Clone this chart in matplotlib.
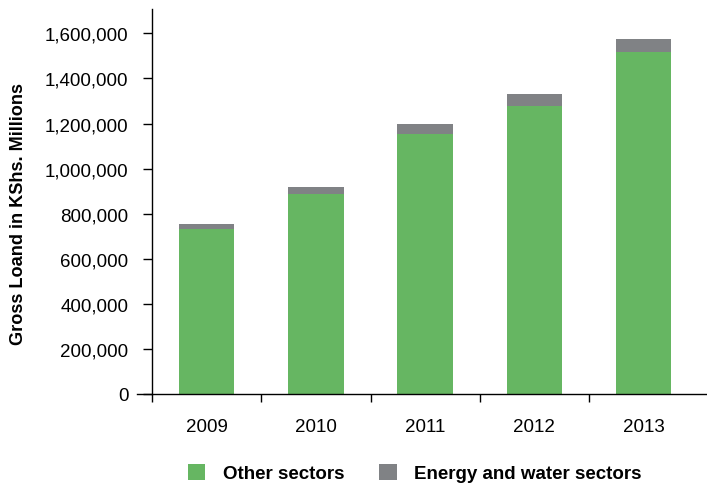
import matplotlib.pyplot as plt
from matplotlib.patches import Patch
from matplotlib.ticker import FuncFormatter, MultipleLocator
import numpy as np

plt.rcParams['font.family'] = ['Liberation Sans', 'DejaVu Sans']

# Gross loans, KShs millions
years = ['2009', '2010', '2011', '2012', '2013']
other_sectors = [732000, 887000, 1153000, 1278000, 1517000]
energy_water = [22000, 31000, 45000, 53000, 58000]

green = '#66b662'
grey = '#808285'

fig = plt.figure(figsize=(7.07, 4.89), dpi=100)
ax = fig.add_axes([152 / 707, 94 / 489, 555 / 707, 385 / 489])

x = np.arange(len(years))
ax.bar(x, other_sectors, width=0.51, color=green, zorder=2)
ax.bar(x, energy_water, width=0.51, bottom=other_sectors, color=grey, zorder=2)

ax.set_xlim(-0.5, 4.58)
ax.set_ylim(0, 1708000)

for side in ['top', 'right']:
    ax.spines[side].set_visible(False)
ax.spines['left'].set_linewidth(1.0)
ax.spines['bottom'].set_linewidth(1.0)
ax.spines['bottom'].set_bounds(-0.64, 4.58)

ax.yaxis.set_major_locator(MultipleLocator(200000))
ax.yaxis.set_major_formatter(FuncFormatter(lambda v, p: '{:,.0f}'.format(v)))
ax.tick_params(axis='y', direction='out', length=6.5, width=1.0, pad=10.5,
               labelsize=13.5)

ax.set_xticks(x)
ax.set_xticklabels(years)
ax.set_xticks(np.arange(-0.5, 4, 1.0), minor=True)
ax.tick_params(axis='x', which='major', length=0, pad=17, labelsize=13.5)
ax.tick_params(axis='x', which='minor', direction='out', length=6, width=1.0)

ax.set_ylabel('Gross Loand in KShs. Millions', fontsize=13.1,
              fontweight='bold')
ax.yaxis.set_label_coords(-0.226, 0.471)

handles = [Patch(facecolor=green, edgecolor='none', label='Other sectors'),
           Patch(facecolor=grey, edgecolor='none', label='Energy and water sectors')]
leg = fig.legend(handles=handles, loc='center', ncol=2,
                 bbox_to_anchor=(415 / 707, 1 - 474 / 489), frameon=False,
                 handlelength=0.92, handleheight=0.92, handletextpad=0.95,
                 columnspacing=1.85, prop={'weight': 'bold', 'size': 13.5})

fig.savefig('out.png', dpi=100)
